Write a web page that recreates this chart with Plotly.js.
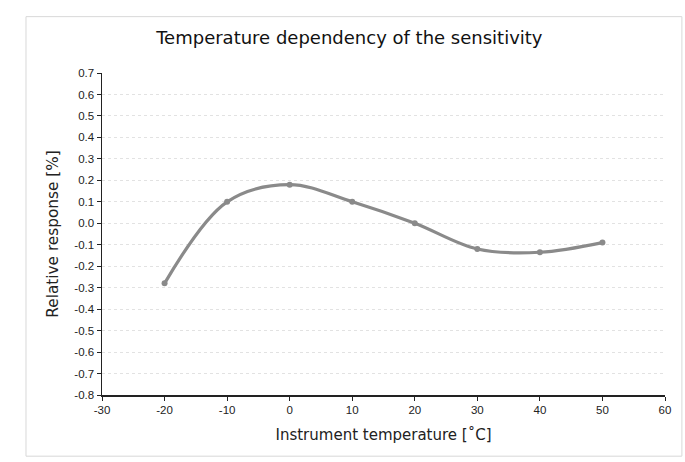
<!DOCTYPE html>
<html><head><meta charset="utf-8">
<script src="https://cdn.plot.ly/plotly-3.0.1.min.js"></script>
<style>html,body{margin:0;padding:0;background:#fff;}#chart{width:685px;height:462px;}</style>
</head><body><div id="chart"></div>
<script>
const temperatures = [-20, -10, 0, 10, 20, 30, 40, 50];
const response = [-0.28, 0.10, 0.18, 0.10, 0.00, -0.12, -0.135, -0.09];
const xTickVals = [-30, -20, -10, 0, 10, 20, 30, 40, 50, 60];
const xTickText = ['-30','-20','-10','0','10','20','30','40','50','60'];
const yTickVals = [0.7,0.6,0.5,0.4,0.3,0.2,0.1,0,-0.1,-0.2,-0.3,-0.4,-0.5,-0.6,-0.7,-0.8];
const yTickText = ['0.7','0.6','0.5','0.4','0.3','0.2','0.1','0.0','-0.1','-0.2','-0.3','-0.4','-0.5','-0.6','-0.7','-0.8'];

const trace = {
  x: temperatures, y: response, type: 'scatter', mode: 'lines+markers',
  line: {shape: 'spline', smoothing: 1, color: '#8a8a8a', width: 3.2},
  marker: {color: '#8a8a8a', size: 6},
  hoverinfo: 'x+y'
};
const layout = {
  width: 685, height: 462,
  margin: {l: 102, r: 20, t: 73, b: 67},
  paper_bgcolor: '#fff', plot_bgcolor: '#fff',
  showlegend: false,
  title: {text: 'Temperature dependency of the sensitivity', x: 0.51, xanchor: 'center', y: 0.918, yanchor: 'middle',
          font: {family: 'DejaVu Sans', size: 18, color: '#111'}},
  xaxis: {range: [-30, 60], tickvals: xTickVals, ticktext: xTickText, showgrid: false, zeroline: false,
          showline: true, linecolor: '#222', linewidth: 1.5, ticks: 'outside', ticklen: 4, tickcolor: '#222',
          tickfont: {family: 'Liberation Sans', size: 11.5, color: '#222'},
          title: {text: 'Instrument temperature [˚C]', font: {family: 'DejaVu Sans', size: 15, color: '#222'}, standoff: 14}},
  yaxis: {range: [-0.8, 0.7], tickvals: yTickVals, ticktext: yTickText, showgrid: true, gridcolor: '#e2e2e2', griddash: 'dot',
          zeroline: false, showline: true, linecolor: '#222', linewidth: 1.5, ticks: 'outside', ticklen: 4, tickcolor: '#222',
          tickfont: {family: 'Liberation Sans', size: 11.5, color: '#222'},
          title: {text: 'Relative response [%]', font: {family: 'DejaVu Sans', size: 15.3, color: '#222'}, standoff: 12}},
  shapes: [{type: 'rect', xref: 'paper', yref: 'paper', x0: -0.135, x1: 1.03, y0: -0.19, y1: 1.175,
            line: {color: '#d8d8d8', width: 1}}]
};
Plotly.newPlot('chart', [trace], layout, {displayModeBar: false, staticPlot: true});
</script></body></html>
